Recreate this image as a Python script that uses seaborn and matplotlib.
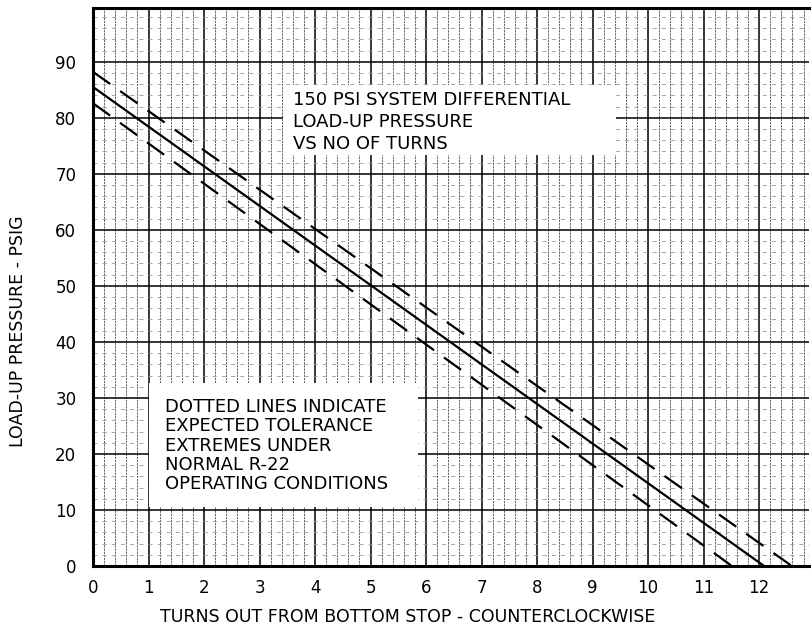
import numpy as np
import pandas as pd
import matplotlib
matplotlib.use('Agg')
import matplotlib.pyplot as plt
from matplotlib.ticker import MultipleLocator
from matplotlib.patches import Rectangle
import seaborn as sns

# load-up pressure vs turns
turns_nominal = [0.0, 12.09]
psig_nominal = [85.5, 0.0]
turns_high = [0.0, 12.59]
psig_high = [88.2, 0.0]
turns_low = [0.0, 11.51]
psig_low = [82.6, 0.0]

x_ticks = list(range(0, 13))
x_tick_labels = [str(t) for t in x_ticks]
y_ticks = list(range(0, 100, 10))
y_tick_labels = [str(t) for t in y_ticks]

title_text = "150 PSI SYSTEM DIFFERENTIAL\nLOAD-UP PRESSURE\nVS NO OF TURNS"
note_text = ("DOTTED LINES INDICATE\nEXPECTED TOLERANCE\nEXTREMES UNDER\n"
             "NORMAL R-22\nOPERATING CONDITIONS")

sns.set_style("white")
plt.rcParams['font.family'] = ['DejaVu Sans']
plt.rcParams['text.color'] = 'black'
plt.rcParams['axes.labelcolor'] = 'black'
plt.rcParams['xtick.color'] = 'black'
plt.rcParams['ytick.color'] = 'black'

fig = plt.figure(figsize=(8.11, 6.28), dpi=100)
ax = fig.add_axes([0.1147, 0.0987, 0.8829, 0.8886])

dash = (0, (9.5, 5.5))
sns.lineplot(x=turns_nominal, y=psig_nominal, ax=ax, color='black', lw=1.6, zorder=5)
sns.lineplot(x=turns_high, y=psig_high, ax=ax, color='black', lw=1.6, zorder=5)
sns.lineplot(x=turns_low, y=psig_low, ax=ax, color='black', lw=1.6, zorder=5)
ax.lines[1].set_linestyle(dash)
ax.lines[2].set_linestyle(dash)

ax.set_xlim(0, 12.9)
ax.set_ylim(0, 99.6)
ax.set_xticks(x_ticks)
ax.set_xticklabels(x_tick_labels)
ax.set_yticks(y_ticks)
ax.set_yticklabels(y_tick_labels)
ax.xaxis.set_minor_locator(MultipleLocator(0.2))
ax.yaxis.set_minor_locator(MultipleLocator(2))
ax.tick_params(which='both', length=0)
ax.tick_params(axis='x', pad=9, labelsize=12)
ax.tick_params(axis='y', pad=12, labelsize=12)

ax.set_axisbelow(True)
ax.grid(which='major', color='black', lw=1.1)
ax.xaxis.grid(which='minor', color='0.35', lw=0.65, linestyle=(0, (2.5, 1)))
ax.yaxis.grid(which='minor', color='0.6', lw=0.6, linestyle=(0, (5, 6)))

for side in ['left', 'bottom', 'top']:
    ax.spines[side].set_linewidth(2.2)
    ax.spines[side].set_color('black')
ax.spines['right'].set_visible(False)

# white label panels over the grid
ax.add_patch(Rectangle((3.42, 73.4), 6.0, 12.5, facecolor='white', edgecolor='none', zorder=3))
ax.add_patch(Rectangle((1.0, 10.5), 4.85, 22.2, facecolor='white', edgecolor='none', zorder=3))
ax.text(3.6, 79.2, title_text, fontsize=13, va='center', ha='left',
        linespacing=1.3, zorder=4)
ax.text(1.3, 21.5, note_text, fontsize=13, va='center', ha='left',
        linespacing=1.1, zorder=4)

ax.set_xlabel("TURNS OUT FROM BOTTOM STOP - COUNTERCLOCKWISE", fontsize=12.5)
ax.set_ylabel("LOAD-UP PRESSURE - PSIG", fontsize=12.5)
ax.xaxis.set_label_coords(0.44, -0.076)
ax.yaxis.set_label_coords(-0.092, 0.42)

fig.savefig("out.png", dpi=100)
